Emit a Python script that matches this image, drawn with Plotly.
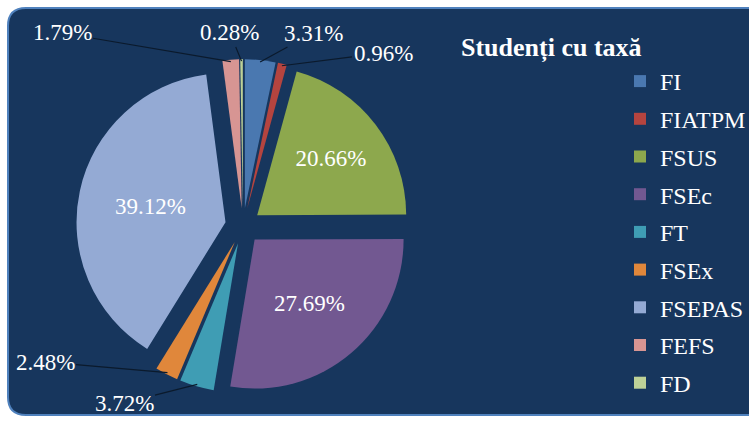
import math
import plotly.graph_objects as go

# Studenți cu taxă - distribuția pe facultăți (%)
labels = ["FI", "FIATPM", "FSUS", "FSEc", "FT", "FSEx", "FSEPAS", "FEFS", "FD"]
values = [3.31, 0.96, 20.66, 27.69, 3.72, 2.48, 39.12, 1.79, 0.28]
colors = ["#4A78B0", "#B5443F", "#8DA84D", "#725891", "#3F9DB4",
          "#E0873B", "#94AAD4", "#D79593", "#BDD197"]
big = ["FSUS", "FSEc", "FSEPAS"]

W, H = 749, 421
BG = "#17365D"
FONT = "Liberation Serif, Times New Roman, serif"

# geometria pie-ului (pixeli)
cx, cy, r, pull = 243, 226, 149, 0.12
half = r * (1 + pull)

fig = go.Figure()

fig.add_trace(go.Pie(
    labels=labels, values=values,
    sort=False, direction="clockwise", rotation=0,
    pull=[pull] * len(values),
    marker=dict(colors=colors, line=dict(width=0)),
    texttemplate=["%{value:.2f}%" if l in big else "" for l in labels],
    textposition=["inside" if l in big else "none" for l in labels],
    insidetextorientation="horizontal",
    textfont=dict(family=FONT, size=23, color="white"),
    domain=dict(x=[(cx - half) / W, (cx + half) / W],
                y=[1 - (cy + half) / H, 1 - (cy - half) / H]),
    showlegend=False, hoverinfo="label+value"
))

# legenda (un grup pe element pentru spațiere)
for l, c in zip(labels, colors):
    fig.add_trace(go.Scatter(
        x=[None], y=[None], mode="markers", name=l, legendgroup=l,
        marker=dict(symbol="square", size=12, color=c)
    ))

# etichete exterioare pentru feliile mici, cu linii de legătură
label_pos = {"FI": (313, 33), "FIATPM": (383, 53), "FT": (124, 403),
             "FSEx": (45, 362), "FEFS": (62, 33), "FD": (230, 33)}
total = sum(values)
cum = 0
annotations = []
for l, v in zip(labels, values):
    if l in label_pos:
        theta = 2 * math.pi * (cum + v / 2) / total
        px = cx + (half - 2) * math.sin(theta)
        py = cy - (half - 2) * math.cos(theta)
        tx, ty = label_pos[l]
        annotations.append(dict(
            x=px / W, y=1 - py / H, xref="paper", yref="paper",
            ax=tx - px, ay=ty - py, text=f"{v:.2f}%",
            showarrow=True, arrowhead=0, arrowwidth=1.2, arrowcolor="#0B1A2C",
            font=dict(family=FONT, size=23, color="white")
        ))
    cum += v

annotations.append(dict(
    x=459 / W, y=1 - 48 / H, xref="paper", yref="paper",
    xanchor="left", yanchor="middle", showarrow=False,
    text="<b>Studenți cu taxă</b>",
    font=dict(family=FONT, size=26, color="white")
))

# cadru cu colțuri rotunjite
def frame_path(x0, y0, x1, y1, rad):
    def p(x, y):
        return f"{x / W:.5f},{1 - y / H:.5f}"
    return (f"M {p(x0 + rad, y0)} L {p(x1 - rad, y0)} Q {p(x1, y0)} {p(x1, y0 + rad)} "
            f"L {p(x1, y1 - rad)} Q {p(x1, y1)} {p(x1 - rad, y1)} "
            f"L {p(x0 + rad, y1)} Q {p(x0, y1)} {p(x0, y1 - rad)} "
            f"L {p(x0, y0 + rad)} Q {p(x0, y0)} {p(x0 + rad, y0)} Z")

fig.add_shape(type="path", path=frame_path(8, 8, 770, 415, 18),
              xref="paper", yref="paper", layer="below",
              fillcolor=BG, line=dict(color="#4F81BD", width=2))

fig.update_layout(
    width=W, height=H,
    margin=dict(l=0, r=0, t=0, b=0, autoexpand=False),
    paper_bgcolor="white", plot_bgcolor="rgba(0,0,0,0)",
    xaxis=dict(visible=False), yaxis=dict(visible=False),
    annotations=annotations,
    legend=dict(x=620 / W, y=1 - 59 / H, xanchor="left", yanchor="top",
                bgcolor="rgba(0,0,0,0)", tracegroupgap=3.5,
                font=dict(family=FONT, size=24, color="white")),
    font=dict(family=FONT)
)

# fără marginea implicită a paginii
fig.write_html("out.html", config={"displayModeBar": False},
               post_script="document.body.style.margin='0';")
